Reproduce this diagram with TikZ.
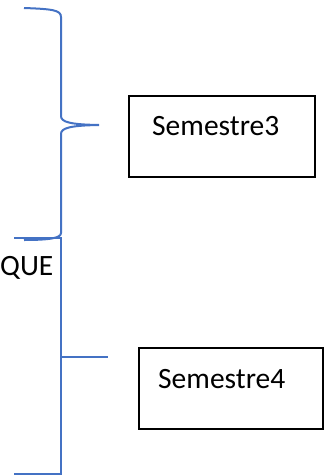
\documentclass[tikz,border=0pt]{standalone}
\usepackage{fontspec}
\setmainfont{Carlito}
\begin{document}
\begin{tikzpicture}[x=1pt,y=-1pt,
  brace/.style={draw={rgb,255:red,68;green,114;blue,196},line width=2pt},
  semebox/.style={draw=black,line width=2.2pt},
  lbl/.style={font=\fontsize{29.5}{31}\selectfont,inner sep=0pt,anchor=base west}]
\useasboundingbox (0,0) rectangle (332,475);
% upper brace
\draw[brace] (24,8) .. controls (52,9) and (61,10) .. (61,17) -- (61,116)
  .. controls (61,122) and (70,124.5) .. (99,125)
  .. controls (70,125.5) and (61,128) .. (61,134) -- (61,233)
  .. controls (61,238) and (50,240) .. (24,240);
% lower bracket
\coordinate (lt) at (14,238);
\coordinate (lb) at (14,474);
\coordinate (mt) at (108,357);
\draw[brace] (lt) -- (61,238) -- (61,474) -- (lb);
\draw[brace] (61,357) -- (mt);
% boxes
\draw[semebox] (129,96) rectangle (315,177);
\draw[semebox] (139,348) rectangle (323,429);
\node[lbl] (s3) at (152,135) {Semestre3};
\node[lbl] (s4) at (158,388) {Semestre4};
\node[lbl] (que) at (0,275) {QUE};
\end{tikzpicture}
\end{document}
